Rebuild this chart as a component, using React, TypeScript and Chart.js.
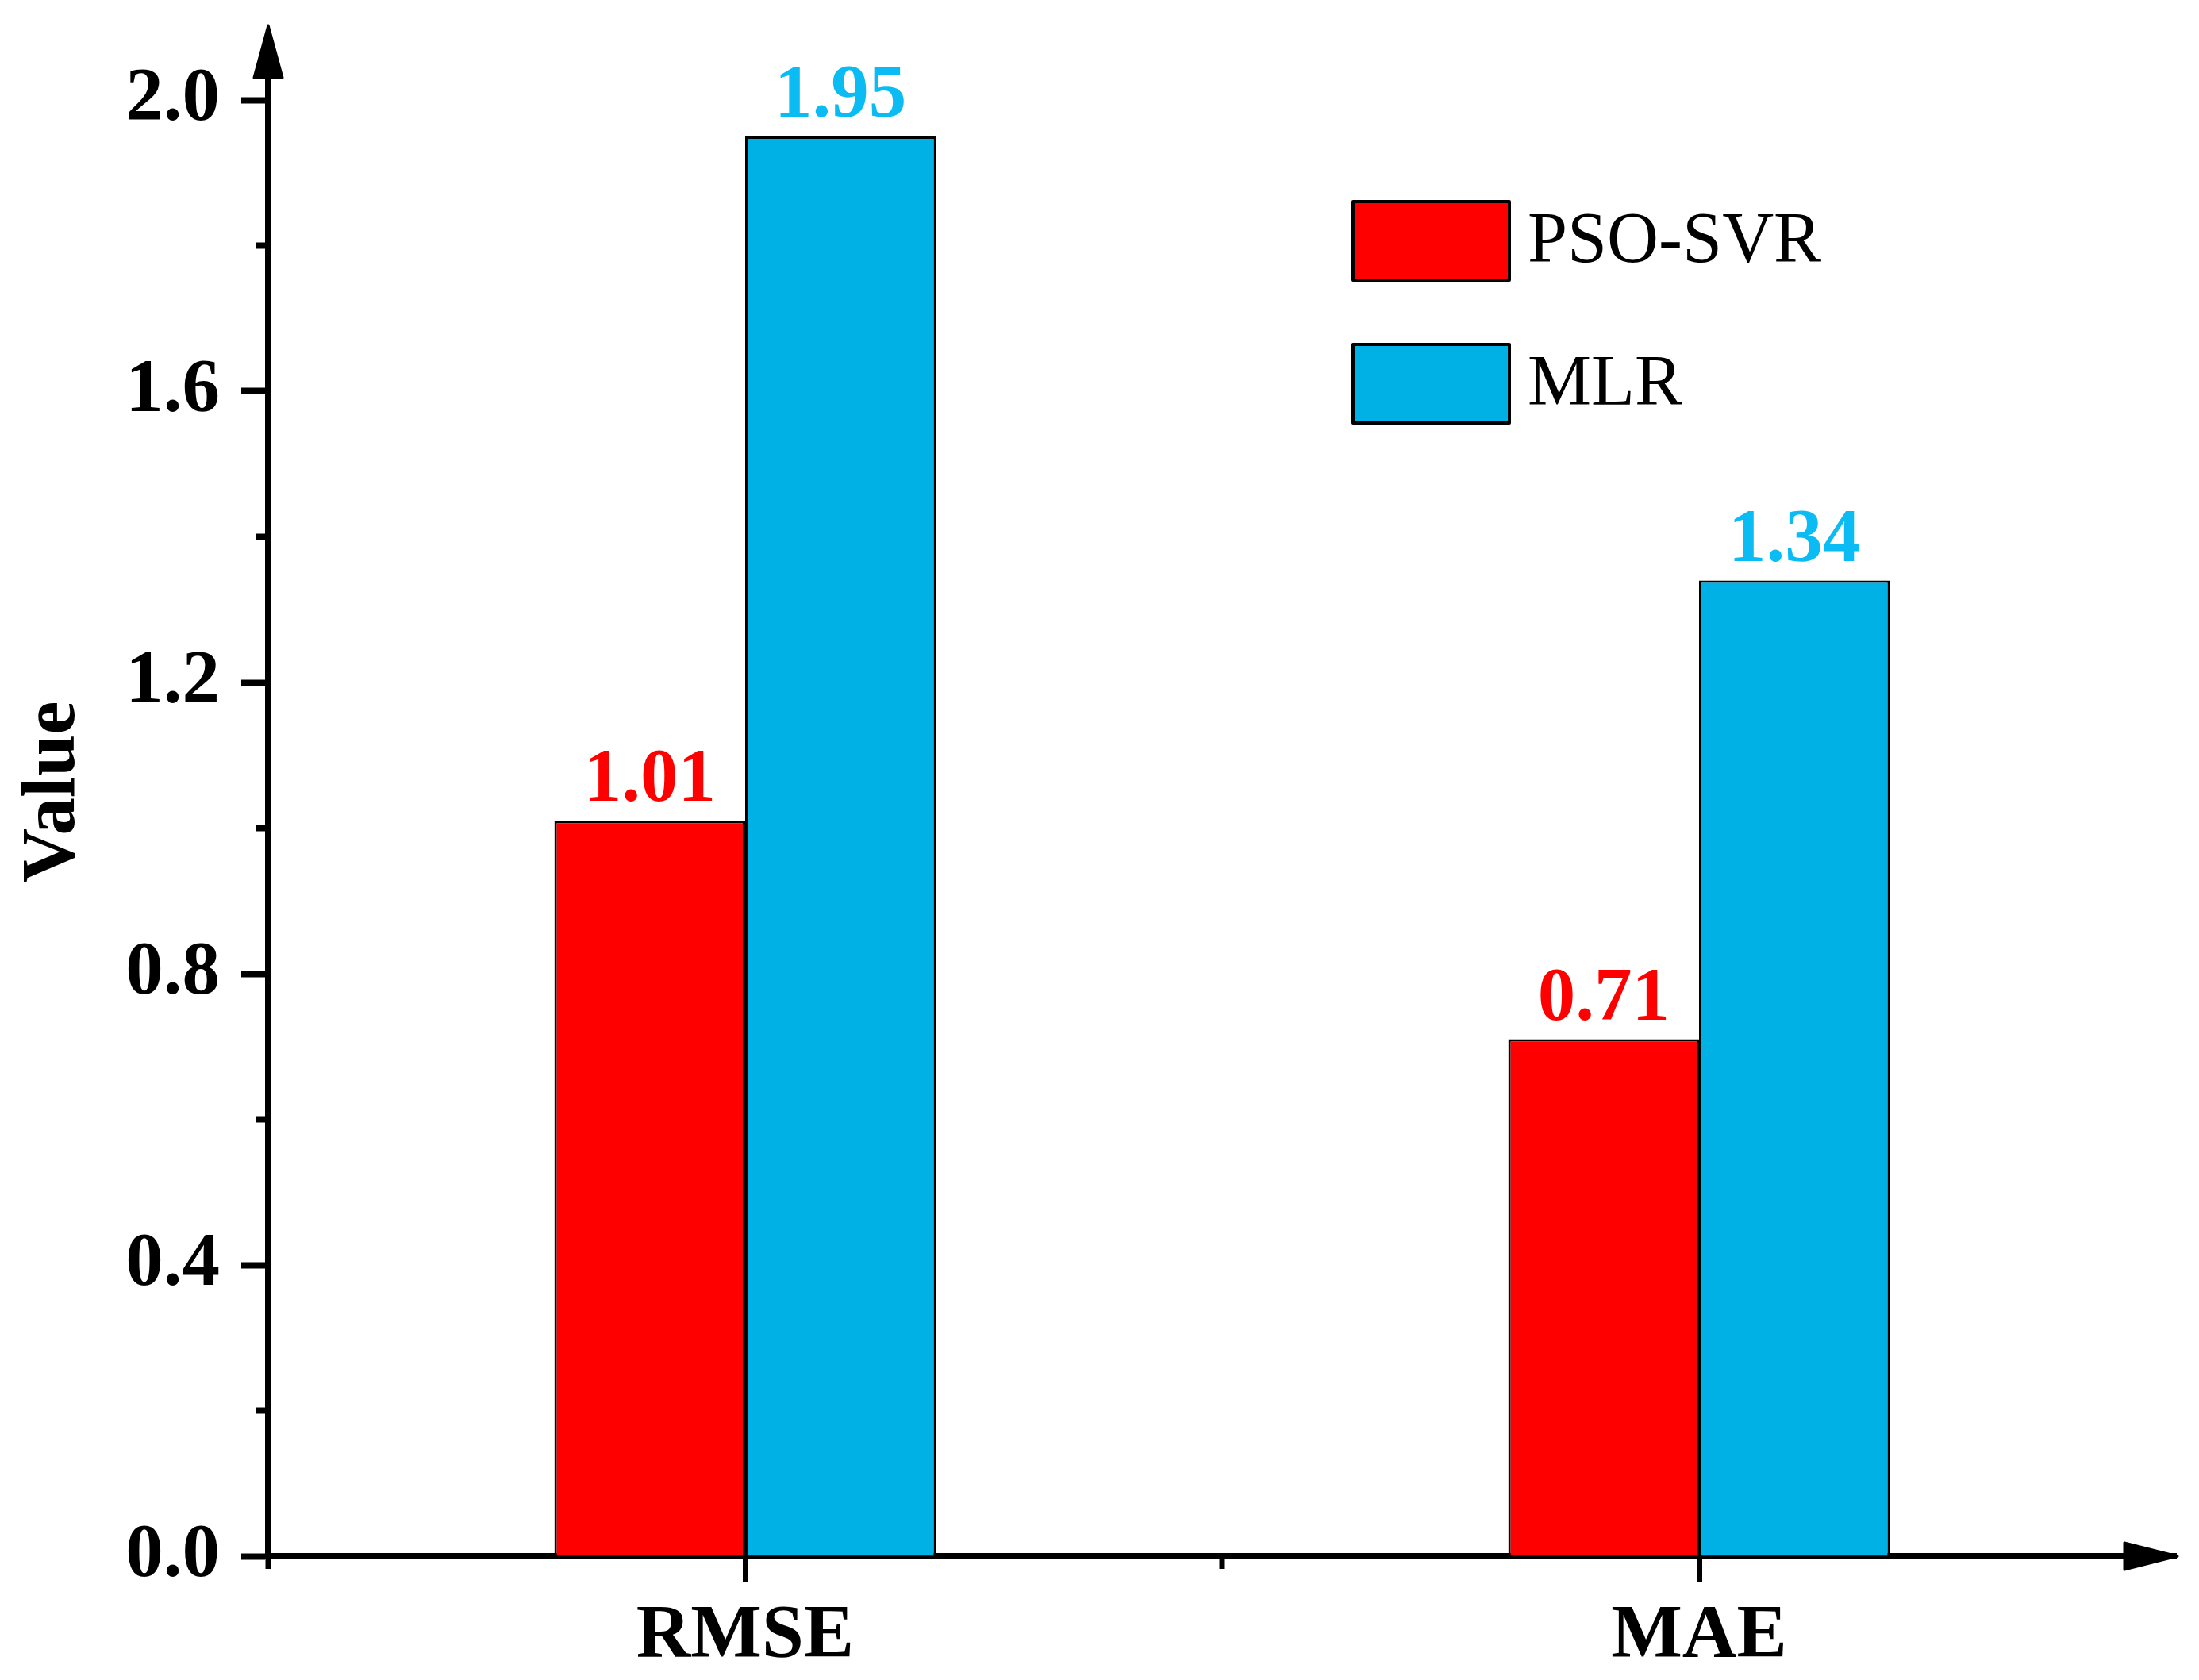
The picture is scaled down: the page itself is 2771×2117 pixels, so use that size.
import React, { useEffect, useRef } from 'react';
import { Chart, registerables, Plugin } from 'chart.js';

Chart.register(...registerables);

const categories = ['RMSE', 'MAE'];
const seriesNames = ['PSO-SVR', 'MLR'];
const psoSvrValues = [1.01, 0.71];
const mlrValues = [1.95, 1.34];
const yTicks = [0, 0.2, 0.4, 0.6, 0.8, 1.0, 1.2, 1.4, 1.6, 1.8, 2.0];

const barColors = ['#FF0000', '#00B1E5'];
const labelColors = ['#FF0000', '#0ABCF3'];
const serif = "'Liberation Serif', 'Times New Roman', serif";

// arrows, minor ticks, rotated axis title, value labels and the legend box
const decorations: Plugin<'bar'> = {
  id: 'decorations',
  afterDraw(chart) {
    const { ctx, chartArea } = chart;
    const x = chart.scales.x;
    const y = chart.scales.y;
    const ax = chartArea.left;
    const ay = chartArea.bottom;
    ctx.save();
    ctx.fillStyle = '#000';
    ctx.strokeStyle = '#000';
    ctx.lineJoin = 'round';

    // y axis extension + arrow
    ctx.lineWidth = 8;
    ctx.beginPath();
    ctx.moveTo(ax, chartArea.top);
    ctx.lineTo(ax, 99);
    ctx.stroke();
    ctx.lineWidth = 3;
    ctx.beginPath();
    ctx.moveTo(ax, 32);
    ctx.lineTo(ax - 18, 98);
    ctx.lineTo(ax + 18, 98);
    ctx.closePath();
    ctx.fill();
    ctx.stroke();

    // x axis arrow
    ctx.beginPath();
    ctx.moveTo(2744, ay);
    ctx.lineTo(2677, ay - 17);
    ctx.lineTo(2677, ay + 17);
    ctx.closePath();
    ctx.fill();
    ctx.stroke();

    // minor ticks on y
    ctx.lineWidth = 8;
    yTicks.forEach((v) => {
      if (Math.round(v * 10) % 4 === 0) return;
      const py = y.getPixelForValue(v);
      ctx.beginPath();
      ctx.moveTo(ax - 16, py);
      ctx.lineTo(ax, py);
      ctx.stroke();
    });

    // minor ticks on x between categories
    ctx.lineWidth = 7;
    const p0 = x.getPixelForValue(0);
    const p1 = x.getPixelForValue(1);
    [p0 - (p1 - p0) / 2, (p0 + p1) / 2].forEach((px) => {
      ctx.beginPath();
      ctx.moveTo(px, ay);
      ctx.lineTo(px, ay + 16);
      ctx.stroke();
    });

    // axis title
    ctx.save();
    ctx.translate(93, 998);
    ctx.rotate(-Math.PI / 2);
    ctx.font = `bold 95px ${serif}`;
    ctx.textAlign = 'center';
    ctx.textBaseline = 'alphabetic';
    ctx.fillText('Value', 0, 0);
    ctx.restore();

    // value labels
    ctx.font = `bold 95px ${serif}`;
    ctx.textAlign = 'center';
    ctx.textBaseline = 'alphabetic';
    chart.data.datasets.forEach((ds, i) => {
      const meta = chart.getDatasetMeta(i);
      ctx.fillStyle = labelColors[i];
      meta.data.forEach((bar, j) => {
        const v = ds.data[j] as number;
        ctx.fillText(v.toFixed(2), bar.x, bar.y - 25);
      });
    });

    // legend
    ctx.font = `90px ${serif}`;
    ctx.textBaseline = 'middle';
    ctx.textAlign = 'left';
    chart.data.datasets.forEach((ds, i) => {
      const top = 254 + i * 180;
      ctx.fillStyle = ds.backgroundColor as string;
      ctx.fillRect(1705, top, 197, 99);
      ctx.lineWidth = 4;
      ctx.strokeStyle = '#000';
      ctx.strokeRect(1705, top, 197, 99);
      ctx.fillStyle = '#000';
      ctx.fillText(ds.label as string, 1925, top + 52);
    });
    ctx.restore();
  },
};

function BarChart() {
  const canvasRef = useRef<HTMLCanvasElement>(null);

  useEffect(() => {
    if (!canvasRef.current) return;
    const chart = new Chart(canvasRef.current, {
      type: 'bar',
      data: {
        labels: categories,
        datasets: [
          {
            label: seriesNames[0],
            data: psoSvrValues,
            backgroundColor: barColors[0],
            borderColor: '#000',
            borderWidth: 3,
            barPercentage: 1,
            categoryPercentage: 0.4,
          },
          {
            label: seriesNames[1],
            data: mlrValues,
            backgroundColor: barColors[1],
            borderColor: '#000',
            borderWidth: 3,
            barPercentage: 1,
            categoryPercentage: 0.4,
          },
        ],
      },
      options: {
        animation: false,
        responsive: true,
        maintainAspectRatio: false,
        layout: { padding: { top: 126, right: 29, bottom: 0, left: 0 } },
        scales: {
          x: {
            z: 1,
            offset: true,
            afterFit: (s) => { s.height = 156; },
            border: { display: true, color: '#000', width: 8 },
            grid: { display: true, drawOnChartArea: false, offset: false, tickLength: 33, tickWidth: 7, tickColor: '#000' },
            ticks: { color: '#000', padding: 12, font: { family: serif, size: 95, weight: 'bold' } },
          },
          y: {
            z: 1,
            min: 0,
            max: 2.0,
            afterFit: (s) => { s.width = 338; },
            afterBuildTicks: (s) => { s.ticks = yTicks.map((v) => ({ value: v })); },
            border: { display: true, color: '#000', width: 8 },
            grid: {
              display: true,
              drawOnChartArea: false,
              tickLength: 34,
              tickWidth: 8,
              tickColor: (c) => (Math.round((c.tick?.value ?? 0) * 10) % 4 === 0 ? '#000' : 'rgba(0,0,0,0)'),
            },
            ticks: {
              color: '#000',
              padding: 27,
              font: { family: serif, size: 95, weight: 'bold' },
              callback: (v) => (Math.round(Number(v) * 10) % 4 === 0 ? Number(v).toFixed(1) : ''),
            },
          },
        },
        plugins: {
          legend: { display: false },
          tooltip: { enabled: false },
        },
      },
      plugins: [decorations],
    });
    return () => chart.destroy();
  }, []);

  return (
    <div style={{ position: 'absolute', left: 0, top: 0, width: '2771px', height: '2117px', background: '#fff' }}>
      <canvas ref={canvasRef} />
    </div>
  );
}

export default function App() {
  return <BarChart />;
}
